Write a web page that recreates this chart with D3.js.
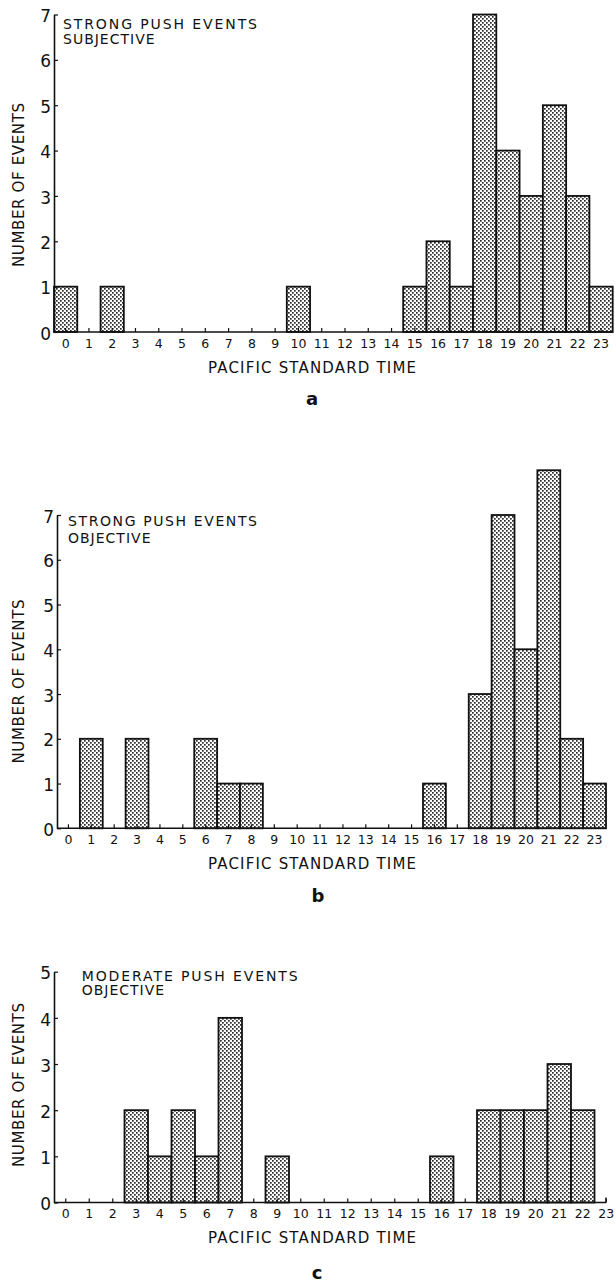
<!DOCTYPE html>
<html>
<head>
<meta charset="utf-8">
<script src="https://cdn.jsdelivr.net/npm/d3@7/dist/d3.min.js"></script>
<style>
  body { margin: 0; background: #fff; }
  text { font-family: "DejaVu Sans", sans-serif; fill: #111; }
</style>
</head>
<body>
<svg id="fig" width="615" height="1284"></svg>
<script>
// hour of day (PST) categories
var hourLabels = ["0","1","2","3","4","5","6","7","8","9","10","11",
                  "12","13","14","15","16","17","18","19","20","21","22","23"];

// number of events per hour
var strongSubjective  = [1,0,1,0,0,0,0,0,0,0,1,0,0,0,0,1,2,1,7,4,3,5,3,1];
var strongObjective   = [0,2,0,2,0,0,2,1,1,0,0,0,0,0,0,0,1,0,3,7,4,8,2,1];
var moderateObjective = [0,0,0,2,1,2,1,4,0,1,0,0,0,0,0,0,1,0,2,2,2,3,2,0];

var yTicksStrong   = [0,1,2,3,4,5,6,7];
var yTicksModerate = [0,1,2,3,4,5];

var panelTitles = [["STRONG PUSH EVENTS", "SUBJECTIVE"],
                   ["STRONG PUSH EVENTS", "OBJECTIVE"],
                   ["MODERATE PUSH EVENTS", "OBJECTIVE"]];
var panelLetters = ["a", "b", "c"];
var xTitle = "PACIFIC STANDARD TIME";
var yTitle = "NUMBER OF EVENTS";

// layout of each panel (pixels)
var panels = [
  {values: strongSubjective, ticks: yTicksStrong, yMax: 7,
   left: 54, right: 612.7, axisEnd: 612.7, base: 332, top: 14.5,
   tx: 63, ty: 29, tgap: 14.5, titleLen: 194, letterY: 405, letterX: 312, yMid: 185},
  {values: strongObjective, ticks: yTicksStrong, yMax: 7,
   left: 57, right: 606, axisEnd: 606, base: 828.3, top: 515,
   tx: 68, ty: 526, tgap: 17, titleLen: 189, letterY: 902, letterX: 318, yMid: 681.5},
  {values: moderateObjective, ticks: yTicksModerate, yMax: 5,
   left: 54, right: 618, axisEnd: 606, base: 1202.5, top: 971.7,
   tx: 81.7, ty: 981, tgap: 14, titleLen: 216, letterY: 1279, letterX: 317, yMid: 1085}
];

var svg = d3.select("#fig");

// stipple fill for the bars
var pat = svg.append("defs").append("pattern")
    .attr("id", "stipple")
    .attr("patternUnits", "userSpaceOnUse")
    .attr("width", 4).attr("height", 4);
pat.append("rect").attr("width", 4).attr("height", 4).attr("fill", "#fff");
pat.append("rect").attr("x", 0).attr("y", 0).attr("width", 1.7).attr("height", 1.7).attr("fill", "#2a2a2a");
pat.append("rect").attr("x", 2).attr("y", 2).attr("width", 1.7).attr("height", 1.7).attr("fill", "#2a2a2a");

panels.forEach(function(p, i) {
  var g = svg.append("g").attr("class", "panel");

  var x = d3.scaleBand()
    .domain(hourLabels)
    .range([p.left, p.right])
    .padding(0);

  var y = d3.scaleLinear()
    .domain([0, p.yMax])
    .range([p.base, p.top]);

  var bars = hourLabels.map(function(h, k) { return {hour: h, value: p.values[k]}; })
    .filter(function(d) { return d.value > 0; });

  g.selectAll("rect.bar")
    .data(bars)
    .enter().append("rect")
    .attr("class", "bar")
    .attr("x", function(d) { return x(d.hour); })
    .attr("y", function(d) { return y(d.value); })
    .attr("width", x.bandwidth())
    .attr("height", function(d) { return y(0) - y(d.value); })
    .attr("fill", "url(#stipple)")
    .attr("stroke", "#111")
    .attr("stroke-width", 1.8);

  // x axis
  var xAxis = g.append("g")
    .attr("transform", "translate(0," + p.base + ")")
    .call(d3.axisBottom(x).tickSizeInner(-4).tickSizeOuter(0).tickPadding(7));
  xAxis.select(".domain").remove();
  xAxis.selectAll("line").attr("stroke", "#111").attr("stroke-width", 1.2);
  xAxis.selectAll("text").style("font-size", "12.5px").attr("fill", "#111");
  xAxis.append("line")
    .attr("x1", p.left).attr("x2", p.axisEnd)
    .attr("y1", 0).attr("y2", 0)
    .attr("stroke", "#111").attr("stroke-width", 1.6);
  if (p.axisEnd < p.right) {
    xAxis.append("line")
      .attr("x1", p.axisEnd).attr("x2", p.axisEnd)
      .attr("y1", 0).attr("y2", -5)
      .attr("stroke", "#111").attr("stroke-width", 1.4);
  }

  // y axis
  var yAxis = g.append("g")
    .attr("transform", "translate(" + p.left + ",0)")
    .call(d3.axisLeft(y).tickValues(p.ticks).tickFormat(d3.format("d"))
      .tickSizeInner(-4).tickSizeOuter(0).tickPadding(3));
  yAxis.select(".domain").attr("stroke", "#111").attr("stroke-width", 1.6);
  yAxis.selectAll("line").attr("stroke", "#111").attr("stroke-width", 1.2);
  yAxis.selectAll("text").style("font-size", "17px").attr("fill", "#111").attr("dy", "0.42em");

  // panel caption inside the plot
  g.append("text")
    .attr("x", p.tx).attr("y", p.ty)
    .attr("textLength", p.titleLen).attr("lengthAdjust", "spacing")
    .style("font-size", "14px")
    .text(panelTitles[i][0]);
  g.append("text")
    .attr("x", p.tx).attr("y", p.ty + p.tgap)
    .style("font-size", "14px")
    .style("letter-spacing", "1px")
    .text(panelTitles[i][1]);

  // axis titles
  g.append("text")
    .attr("x", 208).attr("y", p.base + 40.5)
    .attr("textLength", 208).attr("lengthAdjust", "spacing")
    .style("font-size", "15px")
    .text(xTitle);

  g.append("text")
    .attr("transform", "translate(24," + p.yMid + ") rotate(-90)")
    .attr("text-anchor", "middle")
    .attr("textLength", 164).attr("lengthAdjust", "spacing")
    .style("font-size", "15px")
    .text(yTitle);

  // panel letter
  g.append("text")
    .attr("x", p.letterX).attr("y", p.letterY)
    .attr("text-anchor", "middle")
    .style("font-size", "18px")
    .style("font-weight", "bold")
    .text(panelLetters[i]);
});
</script>
</body>
</html>
